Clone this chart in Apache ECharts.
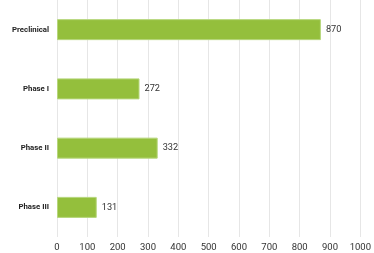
<!DOCTYPE html>
<html><head><meta charset="utf-8">
<script src="https://cdn.jsdelivr.net/npm/echarts@6/dist/echarts.min.js"></script>
<style>html,body{margin:0;padding:0;background:#fff}#c{width:374px;height:253px}</style>
</head><body><div id="c"></div>
<script>
const categories = ["Preclinical", "Phase I", "Phase II", "Phase III"];
const values = [870, 272, 332, 131];
const xTicks = [0, 100, 200, 300, 400, 500, 600, 700, 800, 900, 1000];

const chart = echarts.init(document.getElementById('c'), null, {renderer: 'canvas'});
chart.setOption({
  animation: false,
  grid: {left: 57, right: 13.5, top: -2, bottom: 15, containLabel: false},
  xAxis: {
    type: 'value', min: xTicks[0], max: xTicks[xTicks.length - 1], interval: 100,
    axisLine: {show: false}, axisTick: {show: false},
    splitLine: {show: true, lineStyle: {color: '#e6e6e6', width: 1}},
    axisLabel: {color: '#333', fontSize: 9.5, fontFamily: 'Roboto', margin: 6, formatter: v => String(v)}
  },
  yAxis: {
    type: 'category', data: categories, inverse: true,
    axisLine: {show: false}, axisTick: {show: false},
    axisLabel: {color: '#222', fontSize: 7.8, fontWeight: 'bold', fontFamily: 'Roboto', margin: 8}
  },
  series: [{
    type: 'bar', data: values, barWidth: 21,
    itemStyle: {color: '#94bf3c', borderColor: '#b6d67c', borderWidth: 1},
    label: {show: true, position: 'right', distance: 5, color: '#333', fontSize: 9.2, fontFamily: 'Roboto'}
  }]
});
</script></body></html>
